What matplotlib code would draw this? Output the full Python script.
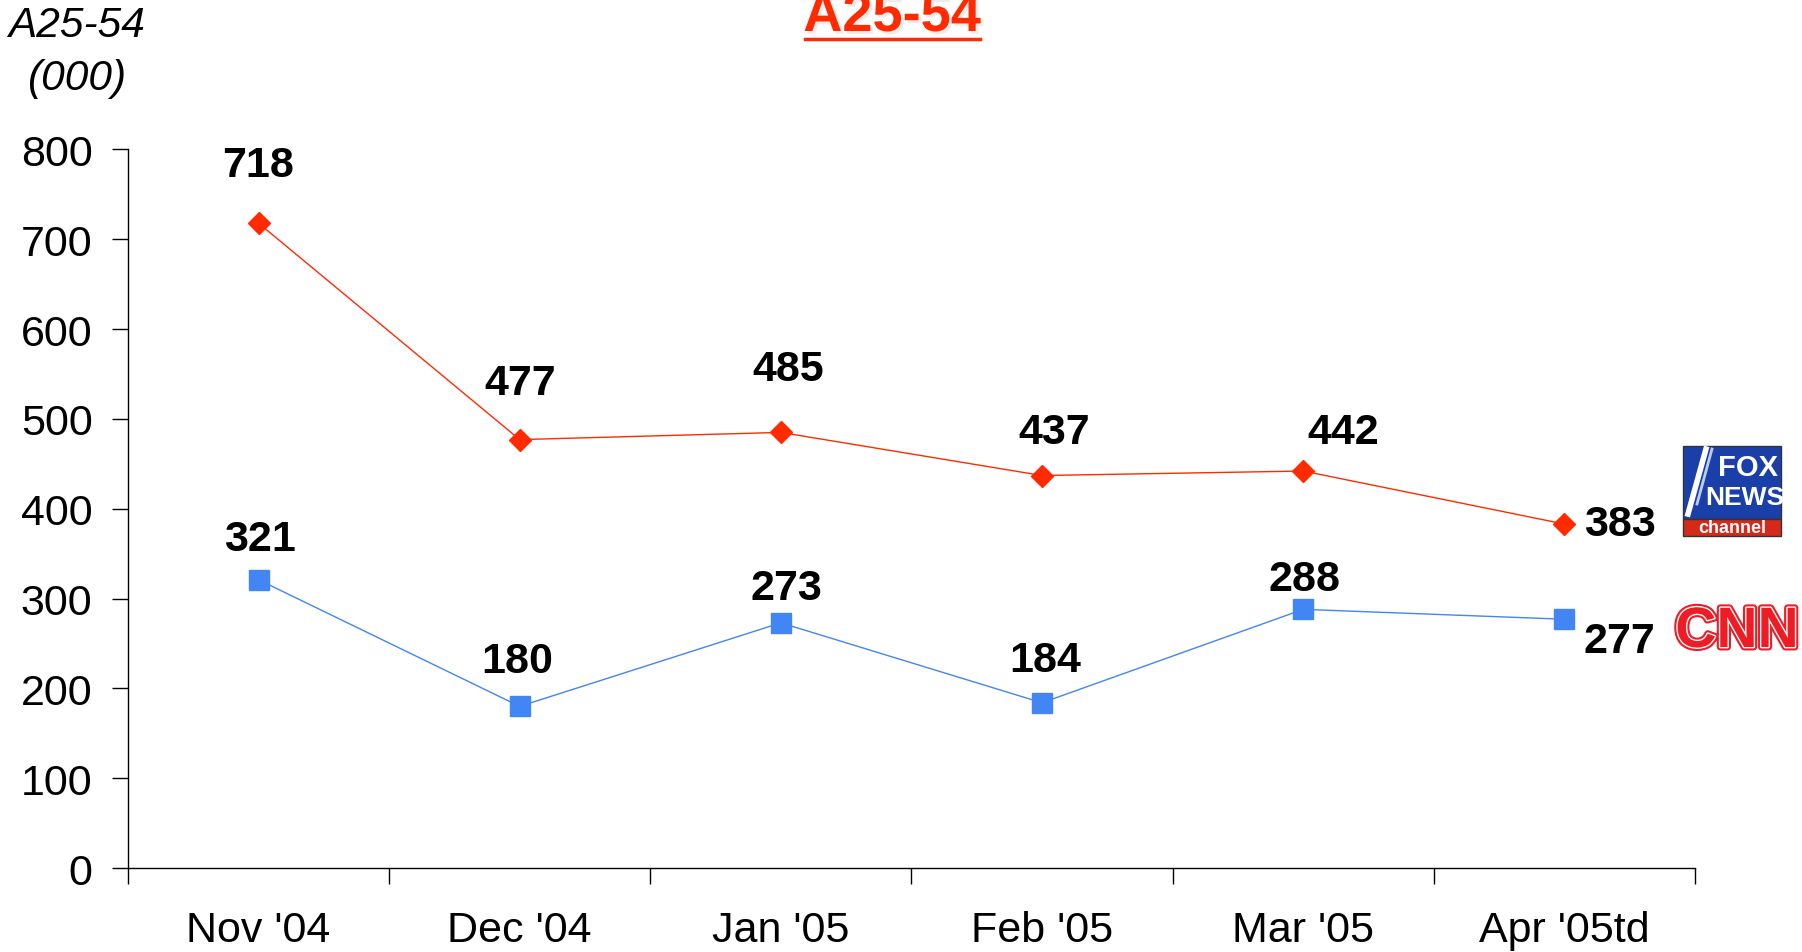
import matplotlib
matplotlib.use('Agg')
import matplotlib.pyplot as plt
import matplotlib.patheffects as pe
from matplotlib.patches import Rectangle
from matplotlib.lines import Line2D

plt.rcParams['font.family'] = ['Liberation Sans', 'DejaVu Sans']

months = ["Nov '04", "Dec '04", "Jan '05", "Feb '05", "Mar '05", "Apr '05td"]
fox = [718, 477, 485, 437, 442, 383]
cnn = [321, 180, 273, 184, 288, 277]

RED = '#FF2A00'
BLUE = '#4285F4'

# label offsets in points (dx, dy), last one goes to the right
fox_off = [(0, 42), (0, 41), (5, 46), (9, 31), (29, 28), (14, 0)]
cnn_off = [(1, 29), (-2, 33), (4, 25), (2, 31), (1, 22), (14, -16)]

fig = plt.figure(figsize=(18.02, 9.53), dpi=100)
ax = fig.add_axes([0.071, 0.0881, 0.8696, 0.754])

x = list(range(len(months)))
ax.plot(x, fox, color=RED, lw=1, marker='D', ms=11, mec=RED, mfc=RED, clip_on=False)
ax.plot(x, cnn, color=BLUE, lw=1, marker='s', ms=15, mec=BLUE, mfc=BLUE, clip_on=False)

for i in x:
    ha = 'left' if i == len(x) - 1 else 'center'
    ax.annotate(str(fox[i]), (i, fox[i]), xytext=fox_off[i], textcoords='offset points',
                ha=ha, va='center', fontsize=31, fontweight='bold')
    ax.annotate(str(cnn[i]), (i, cnn[i]), xytext=cnn_off[i], textcoords='offset points',
                ha=ha, va='center', fontsize=31, fontweight='bold')

ax.set_xlim(-0.5, len(months) - 0.5)
ax.set_ylim(0, 800)
ax.set_yticks(range(0, 801, 100))
ax.tick_params(axis='y', labelsize=31, length=11.5, width=1, pad=14, direction='out')
ax.set_xticks(x)
ax.set_xticklabels(months)
ax.set_xticks([i - 0.5 for i in range(len(months) + 1)], minor=True)
ax.tick_params(axis='x', which='major', length=0, labelsize=31, pad=30)
ax.tick_params(axis='x', which='minor', length=11.5, width=1, direction='out')

for s in ['top', 'right']:
    ax.spines[s].set_visible(False)
for s in ['left', 'bottom']:
    ax.spines[s].set_linewidth(1)

# title with underline and soft shadow
fig.text(892 / 1802, 1 - 32 / 953, 'A25-54', ha='center', va='baseline', fontsize=39,
         fontweight='bold', color=RED,
         path_effects=[pe.withSimplePatchShadow(offset=(2, -2), shadow_rgbFace='gray', alpha=0.15)])
fig.add_artist(Line2D([805 / 1802, 980 / 1802], [1 - 40 / 953, 1 - 40 / 953], color=RED, lw=2.5))

# y axis label
fig.text(77 / 1802, 1 - 37 / 953, 'A25-54', ha='center', va='baseline', fontsize=30.5, style='italic')
fig.text(77 / 1802, 1 - 90 / 953, '(000)', ha='center', va='baseline', fontsize=30.5, style='italic')

# Fox News logo (approximation)
W, H = 1802, 953
fig.add_artist(Rectangle((1683 / W, 1 - 520 / H), 98 / W, 73 / H, transform=fig.transFigure,
                         facecolor='#1B3FA8', edgecolor='#333333', lw=1))
fig.add_artist(Rectangle((1683 / W, 1 - 537 / H), 98 / W, 17 / H, transform=fig.transFigure,
                         facecolor='#D42A1A', edgecolor='#333333', lw=1))
fig.add_artist(Line2D([1688 / W, 1706 / W], [1 - 515 / H, 1 - 450 / H], color='white', lw=4))
fig.add_artist(Line2D([1697 / W, 1712 / W], [1 - 505 / H, 1 - 450 / H], color='#BBCCFF', lw=2))
fig.text(1748 / W, 1 - 468 / H, 'FOX', ha='center', va='center', fontsize=21, fontweight='bold',
         color='white')
fig.text(1745 / W, 1 - 498 / H, 'NEWS', ha='center', va='center', fontsize=19, fontweight='bold',
         color='white')
fig.text(1732 / W, 1 - 529 / H, 'channel', ha='center', va='center', fontsize=13, fontweight='bold',
         color='white')

# CNN logo (approximation)
fig.text(1737 / W, 1 - 633 / H, 'CNN', ha='center', va='center', fontsize=41, fontweight='bold',
         color='#EE1C25',
         path_effects=[pe.Stroke(linewidth=5, foreground='#EE1C25'),
                       pe.Stroke(linewidth=2, foreground='white'), pe.Normal()])

fig.savefig('out.png', dpi=100)
